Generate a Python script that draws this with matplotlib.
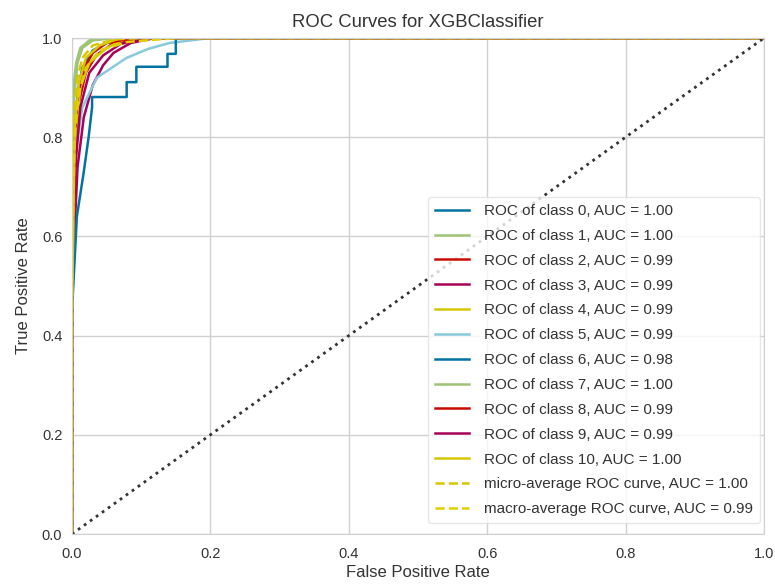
import matplotlib
matplotlib.use("Agg")
import matplotlib.pyplot as plt

plt.rcParams['font.family'] = ['Liberation Sans', 'DejaVu Sans']

# yellowbrick palette
colors = ["#0272a2", "#9fc377", "#ca0b03", "#a50258", "#d7c703", "#88cada"]

# per-class ROC points (fpr, tpr)
fpr_0 = [0, 0, 0.004, 0.008, 0.015, 0.03, 0.05, 0.08, 0.12, 1]
tpr_0 = [0, 0.62, 0.8, 0.89, 0.94, 0.975, 0.99, 0.997, 1, 1]
fpr_1 = [0, 0, 0.003, 0.008, 0.015, 0.03, 0.06, 1]
tpr_1 = [0, 0.7, 0.88, 0.95, 0.98, 0.995, 1, 1]
fpr_2 = [0, 0, 0.005, 0.01, 0.02, 0.035, 0.06, 0.1, 1]
tpr_2 = [0, 0.55, 0.78, 0.87, 0.93, 0.965, 0.99, 1, 1]
fpr_3 = [0, 0, 0.008, 0.017, 0.03, 0.045, 0.06, 0.085, 0.12, 1]
tpr_3 = [0, 0.5, 0.74, 0.84, 0.905, 0.945, 0.97, 0.99, 1, 1]
fpr_4 = [0, 0, 0.005, 0.012, 0.025, 0.05, 0.08, 1]
tpr_4 = [0, 0.48, 0.8, 0.9, 0.95, 0.98, 1, 1]
fpr_5 = [0, 0, 0.006, 0.015, 0.036, 0.079, 0.11, 0.141, 0.2, 1]
tpr_5 = [0, 0.6, 0.78, 0.86, 0.92, 0.96, 0.978, 0.99, 1, 1]
fpr_6 = [0, 0, 0.007, 0.017, 0.024, 0.029, 0.029, 0.079, 0.079, 0.093, 0.093, 0.138, 0.138, 0.15, 0.15, 1]
tpr_6 = [0, 0.45, 0.64, 0.73, 0.8, 0.86, 0.881, 0.881, 0.911, 0.911, 0.942, 0.942, 0.968, 0.968, 1, 1]
fpr_7 = [0, 0, 0.002, 0.006, 0.012, 0.025, 0.05, 1]
tpr_7 = [0, 0.8, 0.9, 0.95, 0.98, 0.995, 1, 1]
fpr_8 = [0, 0, 0.004, 0.009, 0.018, 0.03, 0.05, 0.09, 1]
tpr_8 = [0, 0.6, 0.8, 0.89, 0.94, 0.97, 0.99, 1, 1]
fpr_9 = [0, 0, 0.006, 0.012, 0.025, 0.045, 0.07, 0.11, 1]
tpr_9 = [0, 0.55, 0.76, 0.86, 0.93, 0.965, 0.988, 1, 1]
fpr_10 = [0, 0, 0.004, 0.01, 0.02, 0.04, 0.07, 1]
tpr_10 = [0, 0.45, 0.82, 0.91, 0.96, 0.985, 1, 1]
fpr_micro = [0, 0, 0.003, 0.008, 0.015, 0.03, 0.06, 0.1, 1]
tpr_micro = [0, 0.6, 0.85, 0.92, 0.96, 0.985, 0.997, 1, 1]
fpr_macro = [0, 0, 0.004, 0.01, 0.02, 0.04, 0.08, 0.15, 1]
tpr_macro = [0, 0.55, 0.8, 0.89, 0.94, 0.975, 0.992, 1, 1]

auc = [1.00, 1.00, 0.99, 0.99, 0.99, 0.99, 0.98, 1.00, 0.99, 0.99, 1.00]
auc_micro = 1.00
auc_macro = 0.99

fprs = [fpr_0, fpr_1, fpr_2, fpr_3, fpr_4, fpr_5, fpr_6, fpr_7, fpr_8, fpr_9, fpr_10]
tprs = [tpr_0, tpr_1, tpr_2, tpr_3, tpr_4, tpr_5, tpr_6, tpr_7, tpr_8, tpr_9, tpr_10]

fig = plt.figure(figsize=(7.75, 5.84), dpi=100)
ax = fig.add_axes([72/775, 1 - 534/584, 692/775, 496/584])

for i in range(len(fprs)):
    ax.plot(fprs[i], tprs[i], color=colors[i % len(colors)], lw=1.8,
            label=f"ROC of class {i}, AUC = {auc[i]:0.2f}")
ax.plot(fpr_micro, tpr_micro, color="#d7c703", ls="--", lw=1.8,
        label=f"micro-average ROC curve, AUC = {auc_micro:0.2f}")
ax.plot(fpr_macro, tpr_macro, color="#e0d000", ls="--", lw=1.8,
        label=f"macro-average ROC curve, AUC = {auc_macro:0.2f}")

ax.plot([0, 1], [0, 1], ls=":", c="#333333", lw=2)

ax.set_xlim(0, 1)
ax.set_ylim(0, 1)
ax.set_xticks([0, 0.2, 0.4, 0.6, 0.8, 1.0])
ax.set_yticks([0, 0.2, 0.4, 0.6, 0.8, 1.0])
ax.grid(True, color="#d0d0d0", lw=1)
ax.set_axisbelow(True)
for s in ax.spines.values():
    s.set_color("#d0d0d0")
ax.tick_params(length=0, labelsize=10.5, colors="#333333")
ax.tick_params(axis="x", pad=9)
ax.tick_params(axis="y", pad=7)

ax.set_title("ROC Curves for XGBClassifier", fontsize=13.3, color="#333333", pad=8)
ax.set_xlabel("False Positive Rate", fontsize=12, color="#333333", labelpad=3)
ax.set_ylabel("True Positive Rate", fontsize=12, color="#333333", labelpad=8)

leg = ax.legend(loc="lower right", bbox_to_anchor=(0.994, 0.022), borderaxespad=0,
                frameon=True, fontsize=11, labelspacing=0.71, handlelength=2.2,
                handletextpad=1.0, borderpad=0.45, framealpha=0.8)
leg.get_frame().set_edgecolor("#e0e0e0")
for t in leg.get_texts():
    t.set_color("#333333")

plt.savefig("out.png")
